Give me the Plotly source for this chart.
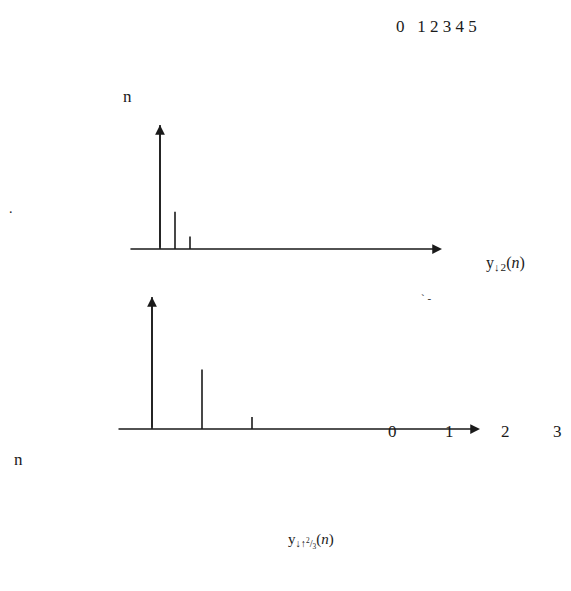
import plotly.graph_objects as go

# stem values
n_top = [0, 1, 2]
y_top = [1.0, 0.30, 0.10]          # y_down2(n)

n_bot = [0, 1, 2]
y_bot = [1.0, 0.45, 0.09]          # y_down-up 2/3 (n)

top_digits = "0\u00a0\u00a0 1 2 3 4 5"
bot_digits = ["0", "1", "2", "3"]
bot_digit_px = [392, 449, 505, 557]

INK = "#1a1a1a"
SERIF = "Liberation Serif, Times New Roman, serif"
OFF = 8  # page body margin
W, H = 571 - OFF, 591 - 2 * OFF


def stems(ns, vals):
    xs, ys = [], []
    for n, v in zip(ns, vals):
        xs += [n, n, None]
        ys += [0, v, None]
    return xs, ys


fig = go.Figure()

xs, ys = stems(n_top, y_top)
fig.add_trace(go.Scatter(x=xs, y=ys, mode="lines",
                         line=dict(color=INK, width=1.6),
                         xaxis="x", yaxis="y", showlegend=False))

xs, ys = stems(n_bot, y_bot)
fig.add_trace(go.Scatter(x=xs, y=ys, mode="lines",
                         line=dict(color=INK, width=1.6),
                         xaxis="x2", yaxis="y2", showlegend=False))


def arrow(x0, y0, x1, y1, xr, yr):
    return dict(x=x1, y=y1, ax=x0, ay=y0, xref=xr, yref=yr, axref=xr, ayref=yr,
                text="", showarrow=True, arrowhead=2, arrowsize=1.3,
                arrowwidth=1.5, arrowcolor=INK, standoff=0, startstandoff=0)


def label(txt, px, py, size=17, **kw):
    return dict(text=txt, x=(px - OFF) / W, y=1 - (py - OFF) / H,
                xref="paper", yref="paper",
                showarrow=False, xanchor="center", yanchor="middle",
                font=dict(family=SERIF, size=size, color=INK), **kw)


def xrange(p0, step):
    p0 -= OFF
    return [-p0 / step, (W - p0) / step]


def yrange(p0, step):
    p0 -= OFF
    return [-(H - p0) / step, p0 / step]


annotations = [
    # axes of the upper plot
    arrow(-2.07, 0, 18.8, 0, "x", "y"),
    arrow(0, 0, 0, 1.0, "x", "y"),
    # axes of the lower plot
    arrow(-0.7, 0, 6.56, 0, "x2", "y2"),
    arrow(0, 0, 0, 1.0, "x2", "y2"),
    label(top_digits, 436, 27),
    label("n", 128, 96),
    label("y<sub>\u2193\u200a2</sub>(<i>n</i>)", 505, 264, size=16),
    label("n", 18, 459),
    label("y<sub>\u2193\u2191<sup>2</sup>/<sub>3</sub></sub>(<i>n</i>)", 311, 541, size=15),
    label(".", 11, 208, size=14),
    label("`\u00a0-", 426, 298, size=11),
]
for d, px in zip(bot_digits, bot_digit_px):
    annotations.append(label(d, px, 431))

fig.update_layout(
    width=W, height=H,
    margin=dict(l=0, r=0, t=0, b=0),
    paper_bgcolor="white", plot_bgcolor="rgba(0,0,0,0)",
    xaxis=dict(domain=[0, 1], range=xrange(160, 15), visible=False),
    yaxis=dict(domain=[0, 1], range=yrange(249, 124), visible=False),
    xaxis2=dict(domain=[0, 1], range=xrange(152, 50), visible=False,
                anchor="y2"),
    yaxis2=dict(domain=[0, 1], range=yrange(429, 132), visible=False,
                anchor="x2"),
    annotations=annotations,
)

fig.write_html("out.html")
